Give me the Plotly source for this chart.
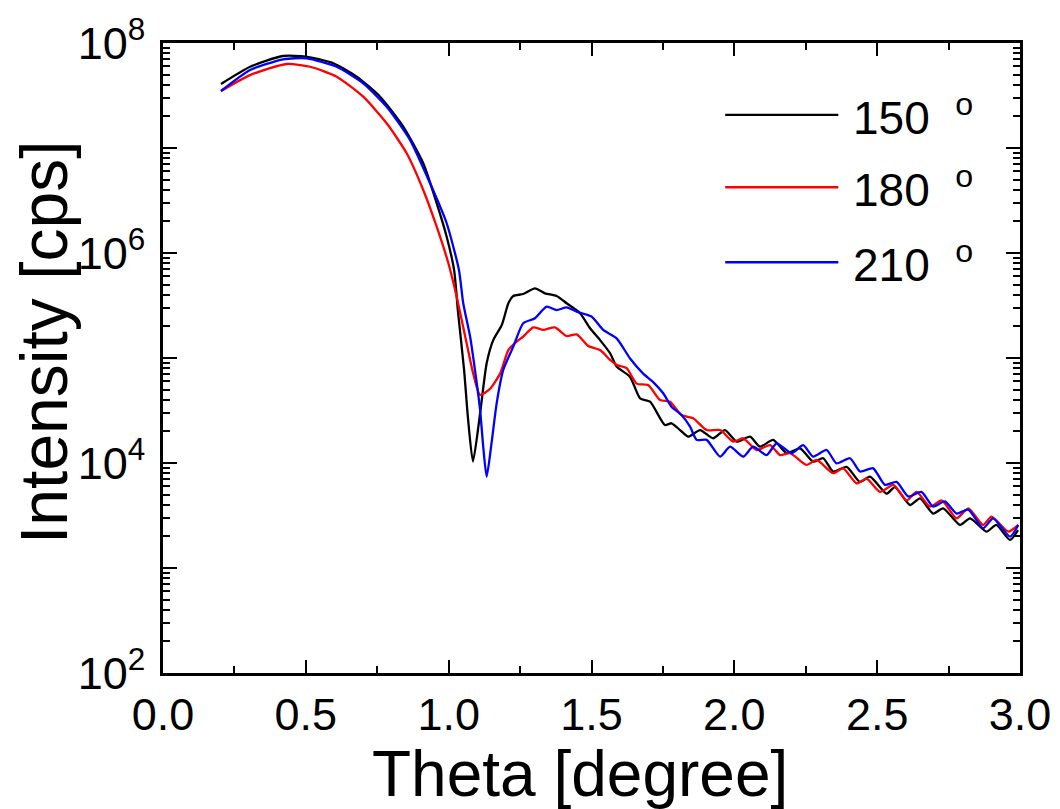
import plotly.graph_objects as go

# ---- data ----
theta_150 = [0.203, 0.305, 0.42, 0.50, 0.596, 0.678, 0.760, 0.841, 0.911, 0.958, 0.993,
             1.019, 1.033, 1.054, 1.068, 1.085, 1.110, 1.133, 1.156, 1.186, 1.209, 1.226,
             1.261, 1.302, 1.337, 1.378, 1.413, 1.460, 1.495, 1.530, 1.565, 1.588, 1.635,
             1.670, 1.705, 1.757, 1.780, 1.810, 1.839, 1.880, 1.926, 1.967, 2.008, 2.055,
             2.090, 2.136, 2.183, 2.230, 2.276, 2.311, 2.346, 2.393, 2.440, 2.475, 2.533,
             2.562, 2.615, 2.650, 2.696, 2.731, 2.790, 2.825, 2.883, 2.917, 2.965, 2.993]
int_150 = [4.07e7, 5.94e7, 7.52e7, 7.41e7, 6.41e7, 4.78e7, 3.08e7, 1.60e7, 7.16e6, 2.99e6, 1.43e6,
           6.9e5, 2.7e5, 7.7e4, 2.6e4, 1.03e4, 2.97e4, 8.9e4, 1.48e5, 2.06e5, 3.32e5, 3.89e5,
           4.07e5, 4.61e5, 4.13e5, 3.89e5, 3.32e5, 2.67e5, 1.92e5, 1.48e5, 1.11e5, 8.3e4, 6.6e4,
           4.13e4, 3.84e4, 2.30e4, 2.39e4, 2.06e4, 1.78e4, 2.06e4, 1.72e4, 2.06e4, 1.60e4, 1.78e4,
           1.43e4, 1.66e4, 1.24e4, 1.38e4, 1.03e4, 1.11e4, 8.3e3, 9.2e3, 6.6e3, 7.4e3, 5.1e3,
           5.9e3, 3.98e3, 4.6e3, 3.3e3, 3.7e3, 2.57e3, 2.97e3, 2.22e3, 2.57e3, 1.85e3, 2.3e3]

theta_180 = [0.203, 0.305, 0.433, 0.515, 0.608, 0.701, 0.783, 0.853, 0.911, 0.958, 0.999,
             1.028, 1.063, 1.086, 1.110, 1.145, 1.180, 1.209, 1.238, 1.261, 1.296, 1.331,
             1.372, 1.413, 1.448, 1.489, 1.530, 1.565, 1.588, 1.623, 1.658, 1.699, 1.740,
             1.775, 1.815, 1.856, 1.903, 1.950, 1.996, 2.031, 2.078, 2.125, 2.160, 2.195,
             2.253, 2.288, 2.346, 2.381, 2.428, 2.463, 2.510, 2.557, 2.603, 2.638, 2.685,
             2.726, 2.778, 2.819, 2.871, 2.900, 2.959, 2.994]
int_180 = [3.49e7, 4.95e7, 6.31e7, 5.94e7, 4.78e7, 3.08e7, 1.72e7, 8.9e6, 3.98e6, 1.78e6, 7.98e5,
           3.84e5, 1.38e5, 7.1e4, 4.45e4, 5.1e4, 7.1e4, 1.19e5, 1.43e5, 1.60e5, 1.96e5, 1.85e5,
           1.96e5, 1.62e5, 1.68e5, 1.30e5, 1.19e5, 9.6e4, 8.6e4, 8.0e4, 5.7e4, 5.5e4, 3.98e4,
           3.84e4, 2.86e4, 2.67e4, 2.06e4, 2.06e4, 1.60e4, 1.72e4, 1.33e4, 1.48e4, 1.19e4, 1.24e4,
           9.6e3, 1.07e4, 8.0e3, 8.9e3, 6.4e3, 7.1e3, 5.3e3, 6.2e3, 4.4e3, 5.3e3, 3.84e3,
           4.4e3, 2.97e3, 3.7e3, 2.57e3, 3.08e3, 2.22e3, 2.57e3]

theta_210 = [0.203, 0.305, 0.421, 0.503, 0.608, 0.701, 0.783, 0.865, 0.935, 0.993, 1.036,
             1.051, 1.075, 1.092, 1.110, 1.121, 1.133, 1.150, 1.168, 1.191, 1.226, 1.261,
             1.302, 1.343, 1.378, 1.413, 1.448, 1.500, 1.541, 1.588, 1.635, 1.681, 1.716,
             1.751, 1.780, 1.815, 1.845, 1.868, 1.903, 1.950, 1.985, 2.031, 2.066, 2.113,
             2.148, 2.200, 2.241, 2.276, 2.323, 2.358, 2.405, 2.440, 2.486, 2.527, 2.568,
             2.609, 2.655, 2.696, 2.737, 2.778, 2.819, 2.871, 2.906, 2.965, 2.994]
int_210 = [3.49e7, 5.53e7, 7.0e7, 7.14e7, 5.94e7, 4.13e7, 2.47e7, 1.19e7, 4.61e6, 1.92e6, 6.9e5,
           3.32e5, 1.60e5, 7.7e4, 3.2e4, 1.43e4, 7.4e3, 1.54e4, 3.7e4, 7.7e4, 1.28e5, 2.14e5,
           2.39e5, 3.08e5, 2.86e5, 3.04e5, 2.76e5, 2.48e5, 1.85e5, 1.54e5, 9.9e4, 7.1e4, 5.9e4,
           4.61e4, 3.44e4, 2.86e4, 2.22e4, 1.66e4, 1.66e4, 1.15e4, 1.43e4, 1.15e4, 1.43e4, 1.19e4,
           1.54e4, 1.24e4, 1.48e4, 1.15e4, 1.33e4, 9.9e3, 1.11e4, 8.3e3, 8.9e3, 6.2e3, 6.6e3,
           4.8e3, 5.3e3, 3.84e3, 4.3e3, 3.3e3, 3.6e3, 2.39e3, 2.97e3, 1.99e3, 2.57e3]

series_names = ["150&nbsp; <sup>o</sup>", "180&nbsp; <sup>o</sup>", "210&nbsp; <sup>o</sup>"]
series_colors = ["#000000", "#ff0000", "#0000ff"]

x_ticks = [0.0, 0.5, 1.0, 1.5, 2.0, 2.5, 3.0]
x_ticktext = ["0.0", "0.5", "1.0", "1.5", "2.0", "2.5", "3.0"]
y_ticks = [1e2, 1e3, 1e4, 1e5, 1e6, 1e7, 1e8]
y_ticktext = ["10<sup>2</sup>", "", "10<sup>4</sup>", "", "10<sup>6</sup>", "", "10<sup>8</sup>"]
x_title = "Theta [degree]"
y_title = "Intensity [cps]"

FONT = "Liberation Sans, Arial, sans-serif"

fig = go.Figure()
for xs, ys, name, col in zip([theta_150, theta_180, theta_210],
                             [int_150, int_180, int_210],
                             series_names, series_colors):
    fig.add_trace(go.Scatter(x=xs, y=ys, mode="lines", name=name,
                             line=dict(color=col, width=2.3, shape="spline", smoothing=0.6),
                             showlegend=False))

# manual legend (long line swatches like the reference)
leg_y = [0.886, 0.771, 0.652]
for name, col, yy in zip(series_names, series_colors, leg_y):
    fig.add_shape(type="line", xref="paper", yref="paper", x0=0.656, x1=0.788, y0=yy, y1=yy,
                  line=dict(color=col, width=2.3))
    fig.add_annotation(xref="paper", yref="paper", x=0.803, y=yy, text=name, showarrow=False,
                       xanchor="left", yanchor="middle", font=dict(family=FONT, size=46, color="black"))

# axis titles as annotations for exact placement
fig.add_annotation(xref="paper", yref="paper", x=0.486, y=-0.16, text=x_title, showarrow=False,
                   xanchor="center", yanchor="middle", font=dict(family=FONT, size=64, color="black"))
fig.add_annotation(xref="paper", yref="paper", x=-0.138, y=0.525, text=y_title, showarrow=False,
                   textangle=-90, xanchor="center", yanchor="middle",
                   font=dict(family=FONT, size=66, color="black"))

axis_common = dict(showline=True, linecolor="black", linewidth=2.5, mirror="ticks",
                   ticks="inside", tickcolor="black", tickwidth=2, showgrid=False, zeroline=False,
                   automargin=False, tickfont=dict(family=FONT, size=45, color="black"))

fig.update_xaxes(range=[0, 3.0], tickvals=x_ticks, ticktext=x_ticktext, ticklen=13,
                 minor=dict(ticks="inside", dtick=0.25, ticklen=7, tickcolor="black", tickwidth=2),
                 ticklabelstandoff=0, **axis_common)
fig.update_yaxes(type="log", range=[2, 8], tickvals=y_ticks, ticktext=y_ticktext, ticklen=14,
                 minor=dict(ticks="inside", dtick="D1", ticklen=7, tickcolor="black", tickwidth=2),
                 ticklabelstandoff=6, **axis_common)

# page has an 8px body margin; size the figure so the plot box lands where the reference has it
fig.update_layout(width=1052, height=801, paper_bgcolor="white", plot_bgcolor="white",
                  margin=dict(l=155, r=40, t=35, b=136), showlegend=False)

fig.write_html("out.html")
